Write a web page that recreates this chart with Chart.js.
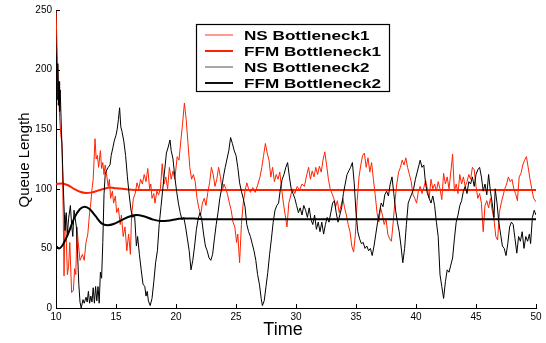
<!DOCTYPE html>
<html>
<head>
<meta charset="utf-8">
<script src="https://cdn.jsdelivr.net/npm/chart.js@4.4.0/dist/chart.umd.min.js"></script>
<style>
  body { margin: 0; background: #fff; }
  canvas { display: block; }
</style>
</head>
<body>
<canvas id="grafico" width="546" height="343"></canvas>
<script>
const xTicks = [10, 15, 20, 25, 30, 35, 40, 45, 50]
const yTicks = [0, 50, 100, 150, 200, 250]
const nombres = ['NS Bottleneck1', 'FFM Bottleneck1', 'NS Bottleneck2', 'FFM Bottleneck2']

// pares [tiempo, longitud de cola]
const nsBottleneck1 = [
  [10, 250], [10.1, 215], [10.2, 185], [10.3, 160], [10.4, 145], [10.5, 138], [10.6, 80], [10.67, 27],
  [10.75, 78], [10.85, 60], [10.95, 28], [11.05, 35], [11.15, 55], [11.3, 13], [11.45, 15], [11.55, 33],
  [11.65, 28], [11.75, 68], [11.85, 55], [12, 40], [12.2, 45], [12.35, 40], [12.5, 55], [12.65, 62],
  [12.8, 80], [12.9, 88], [13, 100], [13.1, 108], [13.25, 142], [13.35, 125], [13.45, 128], [13.55, 118],
  [13.7, 132], [13.8, 117], [13.9, 122], [14, 112], [14.1, 120], [14.2, 113], [14.35, 102], [14.45, 108],
  [14.55, 92], [14.7, 98], [14.8, 88], [14.95, 94], [15.05, 80], [15.2, 84], [15.35, 70], [15.45, 78],
  [15.6, 60], [15.75, 68], [15.9, 48], [16.05, 62], [16.2, 45], [16.3, 78], [16.45, 92], [16.6, 96],
  [16.75, 105], [16.9, 100], [17.05, 108], [17.2, 104], [17.35, 112], [17.5, 106], [17.65, 117], [17.8, 100],
  [17.9, 104], [18, 92], [18.15, 96], [18.25, 88], [18.4, 98], [18.55, 95], [18.7, 100], [18.85, 121],
  [19, 104], [19.15, 110], [19.3, 100], [19.45, 118], [19.6, 108], [19.75, 115], [19.9, 108], [20.1, 127],
  [20.25, 124], [20.4, 140], [20.55, 155], [20.7, 172], [20.85, 158], [21, 138], [21.15, 118], [21.3, 108],
  [21.45, 112], [21.6, 106], [21.75, 92], [21.9, 84], [22.05, 78], [22.2, 88], [22.35, 92], [22.5, 86],
  [22.65, 97], [22.8, 105], [22.95, 118], [23.1, 112], [23.25, 102], [23.4, 108], [23.55, 118], [23.7, 110],
  [23.85, 98], [24, 104], [24.15, 100], [24.3, 95], [24.45, 88], [24.6, 82], [24.75, 72], [24.9, 68],
  [25.05, 55], [25.15, 62], [25.3, 38], [25.45, 70], [25.6, 88], [25.75, 98], [25.9, 105], [26.05, 100],
  [26.2, 97], [26.4, 101], [26.6, 97], [26.8, 103], [27, 110], [27.15, 118], [27.3, 128], [27.45, 138],
  [27.6, 130], [27.75, 124], [27.9, 110], [28.05, 118], [28.2, 106], [28.35, 112], [28.5, 108], [28.65, 114],
  [28.8, 100], [28.95, 88], [29.1, 78], [29.25, 68], [29.4, 88], [29.55, 94], [29.7, 100], [29.9, 96],
  [30.1, 102], [30.3, 99], [30.5, 104], [30.7, 102], [30.9, 112], [31.05, 118], [31.2, 108], [31.35, 115],
  [31.5, 110], [31.65, 118], [31.8, 112], [31.95, 119], [32.1, 114], [32.25, 124], [32.4, 131], [32.55, 120],
  [32.7, 108], [32.85, 100], [33, 96], [33.15, 92], [33.3, 85], [33.45, 90], [33.6, 80], [33.75, 86],
  [33.9, 92], [34.05, 84], [34.2, 78], [34.35, 70], [34.5, 64], [34.65, 52], [34.8, 47], [34.95, 62],
  [35.1, 90], [35.25, 110], [35.4, 120], [35.55, 128], [35.7, 130], [35.85, 118], [36, 126], [36.15, 114],
  [36.3, 122], [36.45, 108], [36.6, 95], [36.75, 80], [36.9, 72], [37.05, 84], [37.2, 78], [37.35, 70],
  [37.5, 75], [37.65, 62], [37.8, 58], [37.95, 56], [38.1, 72], [38.25, 90], [38.4, 104], [38.55, 114],
  [38.7, 118], [38.85, 124], [39, 120], [39.15, 126], [39.3, 118], [39.45, 112], [39.6, 106], [39.75, 95],
  [39.9, 92], [40.05, 88], [40.2, 98], [40.35, 102], [40.5, 96], [40.65, 101], [40.8, 107], [40.95, 100],
  [41.1, 92], [41.25, 108], [41.4, 100], [41.55, 104], [41.7, 98], [41.85, 106], [42, 100], [42.15, 91],
  [42.3, 113], [42.45, 104], [42.6, 110], [42.75, 100], [42.9, 114], [43.05, 129], [43.2, 98], [43.35, 104],
  [43.5, 96], [43.65, 112], [43.8, 104], [43.95, 110], [44.1, 102], [44.25, 106], [44.4, 112], [44.55, 108],
  [44.7, 118], [44.85, 116], [45, 102], [45.15, 92], [45.3, 96], [45.45, 88], [45.6, 64], [45.75, 86],
  [45.9, 90], [46.05, 84], [46.2, 92], [46.35, 82], [46.5, 74], [46.65, 60], [46.8, 57], [46.95, 80],
  [47.1, 88], [47.25, 94], [47.4, 100], [47.55, 104], [47.7, 110], [47.85, 106], [48, 108], [48.15, 100],
  [48.3, 96], [48.45, 90], [48.6, 110], [48.75, 113], [48.9, 120], [49.05, 124], [49.2, 127], [49.35, 118],
  [49.5, 108], [49.65, 100], [49.8, 92], [50, 89]
]

const ffmBottleneck1 = [
  [10, 104], [10.5, 104.5], [11, 103], [11.5, 100], [12, 97.5], [12.5, 96.5], [13, 97], [13.5, 98.5],
  [14, 100], [14.5, 101], [15, 100.5], [15.5, 100], [16, 99.5], [17, 99], [18, 99], [20, 99], [50, 99]
]

const nsBottleneck2 = [
  [10, 170], [10.05, 195], [10.1, 175], [10.15, 205], [10.2, 170], [10.25, 190], [10.3, 165], [10.35, 183],
  [10.45, 150], [10.55, 120], [10.65, 90], [10.75, 65], [10.85, 80], [10.95, 62], [11.05, 75], [11.2, 86],
  [11.3, 70], [11.4, 60], [11.5, 82], [11.6, 75], [11.7, 68], [11.8, 45], [11.9, 20], [12, 5],
  [12.1, 0], [12.25, 7], [12.35, 4], [12.5, 9], [12.6, 5], [12.7, 14], [12.8, 4], [12.9, 10],
  [13, 5], [13.1, 17], [13.2, 4], [13.3, 18], [13.4, 6], [13.5, 18], [13.6, 4], [13.7, 30],
  [13.8, 25], [13.9, 55], [14, 95], [14.1, 112], [14.2, 115], [14.35, 118], [14.5, 120], [14.6, 128],
  [14.75, 135], [14.85, 140], [15, 145], [15.1, 150], [15.2, 158], [15.3, 168], [15.4, 152], [15.5, 148],
  [15.65, 140], [15.8, 128], [15.95, 110], [16.1, 95], [16.25, 82], [16.4, 76], [16.55, 78], [16.7, 52],
  [16.8, 60], [16.95, 45], [17.1, 32], [17.25, 20], [17.4, 18], [17.5, 10], [17.6, 14], [17.7, 6],
  [17.85, 2], [18, 8], [18.15, 22], [18.3, 38], [18.45, 48], [18.6, 70], [18.75, 85], [18.9, 100],
  [19.05, 115], [19.2, 130], [19.35, 135], [19.5, 141], [19.6, 132], [19.75, 125], [19.9, 110], [20.05, 98],
  [20.2, 88], [20.35, 80], [20.5, 74], [20.65, 76], [20.8, 68], [20.95, 58], [21.1, 48], [21.25, 32],
  [21.4, 40], [21.55, 52], [21.7, 66], [21.85, 75], [22, 80], [22.15, 74], [22.3, 62], [22.45, 52],
  [22.6, 48], [22.75, 42], [22.9, 40], [23.05, 45], [23.2, 58], [23.35, 70], [23.5, 80], [23.65, 92],
  [23.8, 100], [23.95, 110], [24.1, 118], [24.25, 125], [24.4, 132], [24.55, 143], [24.7, 138], [24.85, 132],
  [25, 128], [25.15, 118], [25.3, 105], [25.45, 98], [25.6, 92], [25.75, 85], [25.9, 70], [26.05, 64],
  [26.2, 60], [26.35, 54], [26.5, 48], [26.65, 40], [26.8, 28], [26.95, 20], [27.1, 8], [27.2, 2],
  [27.35, 6], [27.5, 18], [27.65, 30], [27.8, 45], [27.95, 58], [28.1, 72], [28.25, 82], [28.4, 86],
  [28.55, 88], [28.7, 100], [28.85, 108], [29, 112], [29.15, 118], [29.3, 122], [29.45, 110], [29.6, 100],
  [29.75, 96], [29.9, 92], [30.05, 86], [30.2, 80], [30.35, 84], [30.5, 78], [30.65, 86], [30.8, 82],
  [30.95, 76], [31.1, 84], [31.25, 74], [31.4, 70], [31.55, 78], [31.7, 66], [31.85, 72], [32, 64],
  [32.15, 72], [32.3, 62], [32.45, 70], [32.6, 76], [32.75, 72], [32.9, 80], [33.05, 88], [33.2, 90],
  [33.35, 80], [33.5, 72], [33.65, 78], [33.8, 84], [33.95, 96], [34.1, 104], [34.25, 112], [34.4, 115],
  [34.55, 118], [34.7, 122], [34.85, 105], [35, 80], [35.15, 64], [35.3, 58], [35.45, 54], [35.6, 55],
  [35.75, 50], [35.9, 52], [36.05, 48], [36.2, 50], [36.35, 44], [36.5, 52], [36.65, 62], [36.8, 72],
  [36.95, 80], [37.1, 88], [37.25, 85], [37.4, 95], [37.55, 98], [37.7, 94], [37.85, 104], [38, 110],
  [38.15, 96], [38.3, 82], [38.45, 72], [38.6, 64], [38.75, 52], [38.9, 38], [39.05, 50], [39.2, 70],
  [39.35, 88], [39.5, 92], [39.65, 96], [39.8, 100], [39.95, 108], [40.1, 114], [40.25, 120], [40.35, 124],
  [40.5, 118], [40.65, 120], [40.8, 104], [40.95, 96], [41.1, 92], [41.25, 88], [41.4, 94], [41.55, 86],
  [41.7, 72], [41.85, 60], [42, 28], [42.15, 18], [42.3, 8], [42.45, 22], [42.6, 32], [42.75, 30],
  [42.9, 36], [43.05, 42], [43.2, 58], [43.35, 72], [43.5, 78], [43.65, 86], [43.8, 90], [43.95, 98],
  [44.1, 102], [44.25, 96], [44.4, 106], [44.55, 104], [44.7, 110], [44.85, 102], [45, 112], [45.15, 116],
  [45.3, 118], [45.45, 110], [45.6, 98], [45.75, 104], [45.9, 95], [46.05, 112], [46.2, 98], [46.35, 88],
  [46.5, 76], [46.6, 100], [46.75, 88], [46.9, 72], [47.05, 62], [47.2, 52], [47.35, 50], [47.5, 44],
  [47.65, 54], [47.8, 68], [47.95, 72], [48.1, 70], [48.25, 58], [48.4, 46], [48.55, 60], [48.7, 56],
  [48.85, 64], [49, 50], [49.15, 60], [49.3, 56], [49.45, 62], [49.55, 54], [49.7, 76], [49.85, 82],
  [50, 78]
]

const ffmBottleneck2 = [
  [10, 52], [10.25, 50], [10.5, 52], [11, 62], [11.5, 75], [12, 83], [12.4, 85], [12.8, 83],
  [13.3, 77], [13.8, 71], [14.3, 69.5], [14.8, 70.5], [15.5, 74], [16.2, 77], [16.7, 78], [17.3, 77],
  [18, 74.5], [18.7, 73], [19.5, 73.5], [20.5, 75], [21.5, 75], [22.5, 74.5], [24, 74.5], [50, 74.5]
]

const aPuntos = (serie) => serie.map(p => ({ x: p[0], y: p[1] }))

const rojo = '#ff2200'
const negro = '#000000'
const fuente = 'Liberation Sans, Arial, Helvetica, sans-serif'

// ticks hacia dentro, titulos y leyenda como en matlab
const extras = {
  id: 'extras',
  afterDraw: (chart) => {
    const { ctx, chartArea: area, scales } = chart
    ctx.save()
    ctx.strokeStyle = '#000'
    ctx.lineWidth = 1
    xTicks.forEach(v => {
      const px = Math.round(scales.x.getPixelForValue(v)) + 0.5
      ctx.beginPath()
      ctx.moveTo(px, area.bottom)
      ctx.lineTo(px, area.bottom - 4)
      ctx.stroke()
    })
    yTicks.forEach(v => {
      const py = Math.round(scales.y.getPixelForValue(v)) + 0.5
      ctx.beginPath()
      ctx.moveTo(area.left, py)
      ctx.lineTo(area.left + 4, py)
      ctx.stroke()
    })

    ctx.fillStyle = '#000'
    ctx.font = '18px ' + fuente
    ctx.textAlign = 'center'
    ctx.textBaseline = 'alphabetic'
    ctx.fillText('Time', 283, 335)

    ctx.save()
    ctx.translate(29, 160)
    ctx.rotate(-Math.PI / 2)
    ctx.font = '15px ' + fuente
    ctx.fillText('Queue Length', 0, 0)
    ctx.restore()

    // leyenda
    const caja = { x: 196.5, y: 24.5, w: 193, h: 67 }
    ctx.fillStyle = '#fff'
    ctx.fillRect(caja.x, caja.y, caja.w, caja.h)
    ctx.strokeStyle = '#000'
    ctx.lineWidth = 1.2
    ctx.strokeRect(caja.x, caja.y, caja.w, caja.h)
    const muestras = [
      { color: '#ff7a66', ancho: 1.5 },
      { color: rojo, ancho: 2 },
      { color: '#8a8a8a', ancho: 1.5 },
      { color: '#111', ancho: 2 }
    ]
    ctx.font = 'bold 13px ' + fuente
    // el texto de la leyenda sale mas ancho en el original
    const estirar = 137 / ctx.measureText(nombres[1]).width
    ctx.textAlign = 'left'
    ctx.textBaseline = 'middle'
    nombres.forEach((nombre, i) => {
      const yy = 35 + i * 16
      ctx.strokeStyle = muestras[i].color
      ctx.lineWidth = muestras[i].ancho
      ctx.beginPath()
      ctx.moveTo(205, yy)
      ctx.lineTo(233, yy)
      ctx.stroke()
      ctx.save()
      ctx.translate(244, yy + 1)
      ctx.scale(estirar, 1)
      ctx.fillStyle = '#000'
      ctx.fillText(nombre, 0, 0)
      ctx.restore()
    })
    ctx.restore()
  }
}

const ctx = document.getElementById('grafico').getContext('2d')
const grafico = new Chart(ctx, {
  type: 'line',
  data: {
    datasets: [
      { label: nombres[0], data: aPuntos(nsBottleneck1), borderColor: rojo, borderWidth: 1, tension: 0, order: 4 },
      { label: nombres[1], data: aPuntos(ffmBottleneck1), borderColor: rojo, borderWidth: 2, cubicInterpolationMode: 'monotone', order: 3 },
      { label: nombres[2], data: aPuntos(nsBottleneck2), borderColor: negro, borderWidth: 1, tension: 0, order: 2 },
      { label: nombres[3], data: aPuntos(ffmBottleneck2), borderColor: negro, borderWidth: 2, cubicInterpolationMode: 'monotone', order: 1 }
    ]
  },
  options: {
    responsive: false,
    animation: false,
    parsing: false,
    normalized: true,
    elements: { point: { radius: 0 } },
    layout: { padding: { top: 10, right: 10, left: 0, bottom: 0 } },
    plugins: {
      legend: { display: false },
      tooltip: { enabled: false }
    },
    scales: {
      x: {
        type: 'linear',
        min: 10,
        max: 50,
        afterBuildTicks: axis => { axis.ticks = xTicks.map(v => ({ value: v })) },
        afterFit: axis => { axis.height = 35 },
        grid: { display: false, drawTicks: false },
        border: { display: true, color: '#000', width: 1 },
        ticks: { color: '#000', padding: 3, maxRotation: 0, font: { family: fuente, size: 10 } }
      },
      y: {
        type: 'linear',
        min: 0,
        max: 250,
        afterBuildTicks: axis => { axis.ticks = yTicks.map(v => ({ value: v })) },
        afterFit: axis => { axis.width = 56 },
        grid: { display: false, drawTicks: false },
        border: { display: true, color: '#000', width: 1 },
        ticks: { color: '#000', padding: 4, font: { family: fuente, size: 10 } }
      }
    }
  },
  plugins: [extras]
})
</script>
</body>
</html>
